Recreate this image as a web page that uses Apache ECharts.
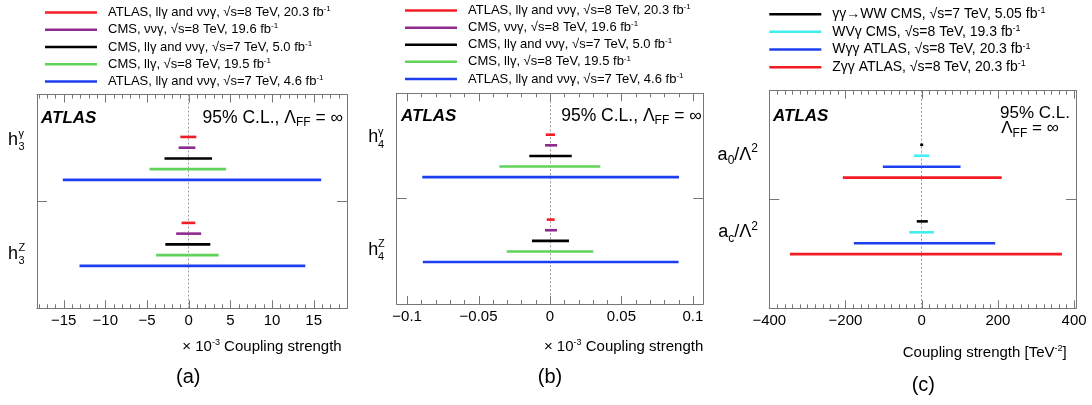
<!DOCTYPE html>
<html><head><meta charset="utf-8">
<script src="https://cdn.jsdelivr.net/npm/echarts@6/dist/echarts.min.js"></script>
<style>html,body{margin:0;padding:0;background:#fff}#c{width:1092px;height:405px}</style>
</head><body><div id="c"></div>
<script>
// ---------- data ----------
const namesAB = [
  'ATLAS, llγ and ννγ, √s=8 TeV, 20.3 fb-1',
  'CMS, ννγ, √s=8 TeV, 19.6 fb-1',
  'CMS, llγ and ννγ, √s=7 TeV, 5.0 fb-1',
  'CMS, llγ, √s=8 TeV, 19.5 fb-1',
  'ATLAS, llγ and ννγ, √s=7 TeV, 4.6 fb-1'
];
const colorsAB = ['#f21d24', '#8e2b8e', '#000000', '#5fd35a', '#1d3ff0'];
const namesC = [
  'γγ→WW CMS, √s=7 TeV, 5.05 fb-1',
  'WVγ CMS, √s=8 TeV, 19.3 fb-1',
  'Wγγ ATLAS, √s=8 TeV, 20.3 fb-1',
  'Zγγ ATLAS, √s=8 TeV, 20.3 fb-1'
];
const colorsC = ['#000000', '#40eef0', '#1d3ff0', '#f21d24'];

// limits [low, high] per experiment (order of names)
const h3gamma = [[-1.0, 0.92], [-1.2, 0.8], [-2.9, 2.8], [-4.7, 4.5], [-15.1, 15.9]];
const h3Z     = [[-0.85, 0.8], [-1.5, 1.5], [-2.8, 2.6], [-3.9, 3.6], [-13.1, 14.0]];
const h4gamma = [[-0.003, 0.0035], [-0.0035, 0.005], [-0.0145, 0.0152], [-0.0355, 0.0352], [-0.0894, 0.0903]];
const h4Z     = [[-0.0023, 0.0033], [-0.0035, 0.0049], [-0.0126, 0.0133], [-0.0303, 0.0303], [-0.089, 0.090]];
const a0Lim   = [[-4, 4], [-20, 20], [-102, 102], [-207, 210]];
const acLim   = [[-13, 16], [-33, 32], [-178, 193], [-346, 368]];

const ticksA = [-15, -10, -5, 0, 5, 10, 15];
const ticksB = [-0.1, -0.05, 0, 0.05, 0.1];
const ticksC = [-400, -200, 0, 200, 400];

// ---------- helpers ----------
const FF = '"Liberation Sans", Arial, Helvetica, sans-serif';
const FRAME = '#777';
const ROW0 = 100; // row index base

function minorVals(min, max, step) {
  const out = [];
  for (let k = Math.ceil(min / step - 1e-9); k <= Math.floor(max / step + 1e-9); k++) {
    out.push(Math.round(k * step * 1e6) / 1e6);
  }
  return out;
}
function fmtTick(v) {
  return v < 0 ? '\u2212' + String(Math.abs(v)) : String(v);
}
function xMainAxes(g, min, max, majors) {
  return ['bottom', 'top'].map(function (pos) {
    return {
      gridIndex: g, type: 'value', min: min, max: max, position: pos, splitLine: { show: false },
      axisLine: { show: true, onZero: false, lineStyle: { color: FRAME, width: 1 } },
      axisTick: { show: false },
      axisLabel: pos === 'bottom'
        ? { show: true, customValues: majors, formatter: fmtTick, fontSize: 15, color: '#000', margin: 5, fontFamily: FF }
        : { show: false }
    };
  });
}
function yAxesFor(g, min, max, divider) {
  return ['left', 'right'].map(function (pos) {
    return {
      gridIndex: g, type: 'value', position: pos, min: ROW0 + min, max: ROW0 + max, inverse: true,
      splitLine: { show: false },
      axisLine: { show: true, onZero: false, lineStyle: { color: FRAME, width: 1 } },
      axisTick: { show: true, inside: true, length: 10, customValues: [ROW0 + divider], lineStyle: { color: FRAME } },
      axisLabel: { show: false }
    };
  });
}
function renderBar(params, api) {
  const y = api.value(2);
  const p1 = api.coord([api.value(0), y]);
  const p2 = api.coord([api.value(1), y]);
  return { type: 'line', shape: { x1: p1[0], y1: p1[1], x2: p2[0], y2: p2[1] },
           style: { stroke: api.visual('color'), lineWidth: 2.6 } };
}
function seriesFor(g, names, colors, lim1, lim2, off) {
  return names.map(function (n, i) {
    const s = {
      type: 'custom', name: n, xAxisIndex: 2 * g, yAxisIndex: 2 * g,
      itemStyle: { color: colors[i] },
      encode: { x: [0, 1], y: 2 },
      renderItem: renderBar,
      data: [[lim1[i][0], lim1[i][1], ROW0 + i], [lim2[i][0], lim2[i][1], ROW0 + off + i]],
      z: 3
    };
    if (i === 0) {
      s.markLine = { silent: true, symbol: ['none', 'none'], label: { show: false }, z: 1,
        lineStyle: { color: '#9a9a9a', type: [2, 2], width: 1 }, data: [{ xAxis: 0 }] };
    }
    return s;
  });
}
function legendFmt(name) { return name.replace(/ fb-1$/, ' fb{sup|-1}'); }
function legendFor(left, top, names, fs, lh) {
  return {
    left: left, top: top, padding: 0, orient: 'vertical', icon: 'rect', itemWidth: 52, itemHeight: 2.5,
    itemGap: 2, selectedMode: false, data: names, formatter: legendFmt,
    textStyle: { fontSize: fs, fontFamily: FF, color: '#000', padding: [0, 0, 0, 6], lineHeight: lh,
      rich: { sup: { fontSize: Math.round(fs * 0.62), verticalAlign: 'top', fontFamily: FF, lineHeight: 9, color: '#000' } } }
  };
}
function T(x, y, text, size, extra) {
  return { type: 'text', x: x, y: y, silent: true, z: 10,
    style: Object.assign({ text: text, fontSize: size, fontFamily: FF, fill: '#000',
      align: 'left', verticalAlign: 'middle' }, extra || {}) };
}
const richSup = function (fs) { return { sup: { fontSize: fs, verticalAlign: 'top', fontFamily: FF, lineHeight: fs } }; };
const subRich = { sub: { fontSize: 12, verticalAlign: 'bottom', fontFamily: FF, lineHeight: 12 } };
const subSupRich = { sub: { fontSize: 12, verticalAlign: 'bottom', fontFamily: FF, lineHeight: 12 },
                     sup: { fontSize: 12, verticalAlign: 'top', fontFamily: FF, lineHeight: 12 } };

const textGraphics = [
  // panel a
  T(41, 118, 'ATLAS', 17, { fontWeight: 'bold', fontStyle: 'italic' }),
  T(343, 118, '95% C.L., Λ{sub|FF} = ∞', 17.5, { align: 'right', rich: subRich, lineHeight: 22 }),
  T(8, 140, 'h', 18), T(18.5, 134, 'γ', 11), T(18.5, 147, '3', 11),
  T(8, 253.7, 'h', 18), T(18.5, 247.5, 'Z', 11), T(18.5, 260.5, '3', 11),
  T(341.7, 347, '× 10{sup|-3} Coupling strength', 15, { align: 'right', rich: richSup(9), lineHeight: 18 }),
  T(188.3, 377, '(a)', 20, { align: 'center' }),
  // panel b
  T(401, 116, 'ATLAS', 17, { fontWeight: 'bold', fontStyle: 'italic' }),
  T(701.7, 116, '95% C.L., Λ{sub|FF} = ∞', 17.5, { align: 'right', rich: subRich, lineHeight: 22 }),
  T(368.3, 137.5, 'h', 18), T(378, 131.5, 'γ', 11), T(378, 144.5, '4', 11),
  T(368.3, 250, 'h', 18), T(378, 244, 'Z', 11), T(378, 257, '4', 11),
  T(703.3, 347, '× 10{sup|-3} Coupling strength', 15, { align: 'right', rich: richSup(9), lineHeight: 18 }),
  T(550, 377, '(b)', 20, { align: 'center' }),
  // panel c
  T(773, 116, 'ATLAS', 17, { fontWeight: 'bold', fontStyle: 'italic' }),
  T(1070, 113.3, '95% C.L.', 17, { align: 'right' }),
  T(1030, 128.5, 'Λ{sub|FF} = ∞', 17, { align: 'center', rich: subRich, lineHeight: 22 }),
  T(758, 155, 'a{sub|0}/Λ{sup|2}', 18, { align: 'right', lineHeight: 24, rich: subSupRich }),
  T(758, 232.5, 'a{sub|c}/Λ{sup|2}', 18, { align: 'right', lineHeight: 24, rich: subSupRich }),
  T(1066.7, 353, 'Coupling strength [TeV{sup|-2}]', 15, { align: 'right', rich: richSup(9), lineHeight: 18 }),
  T(923.3, 385, '(c)', 20, { align: 'center' })
];

const xA = [-18.2, 19.0], xB = [-0.1073, 0.1073], xC = [-400, 405];
const yA = [-3.95, 15.95], yB = [-3.9, 15.95], yC = [-4.95, 14.95];
const gridRects = [
  { left: 37, top: 94.5, width: 310, height: 213.8 },
  { left: 396.7, top: 93.3, width: 306.6, height: 210.7 },
  { left: 769.3, top: 90.7, width: 306.7, height: 217.6 }
];

const option = {
  animation: false,
  backgroundColor: '#fff',
  textStyle: { fontFamily: FF },
  grid: gridRects,
  xAxis: [].concat(
    xMainAxes(0, xA[0], xA[1], ticksA),
    xMainAxes(1, xB[0], xB[1], ticksB),
    xMainAxes(2, xC[0], xC[1], ticksC)
  ),
  yAxis: [].concat(
    yAxesFor(0, yA[0], yA[1], 6),
    yAxesFor(1, yB[0], yB[1], 6),
    yAxesFor(2, yC[0], yC[1], 5)
  ),
  legend: [
    legendFor(45, 5, namesAB, 13, 15.2),
    legendFor(405, 3, namesAB, 13, 15.1),
    legendFor(769.3, 6.3, namesC, 14, 15.7)
  ],
  series: [].concat(
    seriesFor(0, namesAB, colorsAB, h3gamma, h3Z, 8),
    seriesFor(1, namesAB, colorsAB, h4gamma, h4Z, 8),
    seriesFor(2, namesC, colorsC, a0Lim, acLim, 7)
  ),
  graphic: { elements: textGraphics }
};

const chart = echarts.init(document.getElementById('c'), null, { renderer: 'canvas' });
chart.setOption(option);

// ---------- frame ticks (top and bottom, pointing inward) ----------
const tickSpecs = [
  { g: 0, x: xA, y: yA, majors: ticksA, minors: minorVals(xA[0], xA[1], 1) },
  { g: 1, x: xB, y: yB, majors: ticksB, minors: minorVals(xB[0], xB[1], 0.01) },
  { g: 2, x: xC, y: yC, majors: ticksC, minors: minorVals(xC[0], xC[1], 20) }
];
function toNum(r) {
  if (Array.isArray(r)) r = r[0];
  return (typeof r === 'number' && isFinite(r)) ? r : NaN;
}
const tickLines = [];
tickSpecs.forEach(function (sp) {
  const rect = gridRects[sp.g];
  let top = NaN, bot = NaN;
  try {
    top = toNum(chart.convertToPixel({ yAxisIndex: 2 * sp.g }, ROW0 + sp.y[0]));
    bot = toNum(chart.convertToPixel({ yAxisIndex: 2 * sp.g }, ROW0 + sp.y[1]));
  } catch (e) { /* fall back below */ }
  if (!isFinite(top)) top = rect.top;
  if (!isFinite(bot)) bot = rect.top + rect.height;
  function px(v) {
    let x = NaN;
    try { x = toNum(chart.convertToPixel({ xAxisIndex: 2 * sp.g }, v)); } catch (e) { /* fall back */ }
    if (!isFinite(x)) x = rect.left + (v - sp.x[0]) / (sp.x[1] - sp.x[0]) * rect.width;
    return Math.round(x) + 0.5;
  }
  function add(v, len) {
    const x = px(v);
    tickLines.push({ type: 'line', silent: true, z: 100,
      shape: { x1: x, y1: top, x2: x, y2: top + len }, style: { stroke: FRAME, lineWidth: 1, fill: null } });
    tickLines.push({ type: 'line', silent: true, z: 100,
      shape: { x1: x, y1: bot, x2: x, y2: bot - len }, style: { stroke: FRAME, lineWidth: 1, fill: null } });
  }
  sp.minors.forEach(function (v) { if (sp.majors.indexOf(v) < 0) add(v, 4); });
  sp.majors.forEach(function (v) { add(v, 8); });
});
chart.setOption({ graphic: { elements: textGraphics.concat(tickLines) } });
</script>
</body></html>
